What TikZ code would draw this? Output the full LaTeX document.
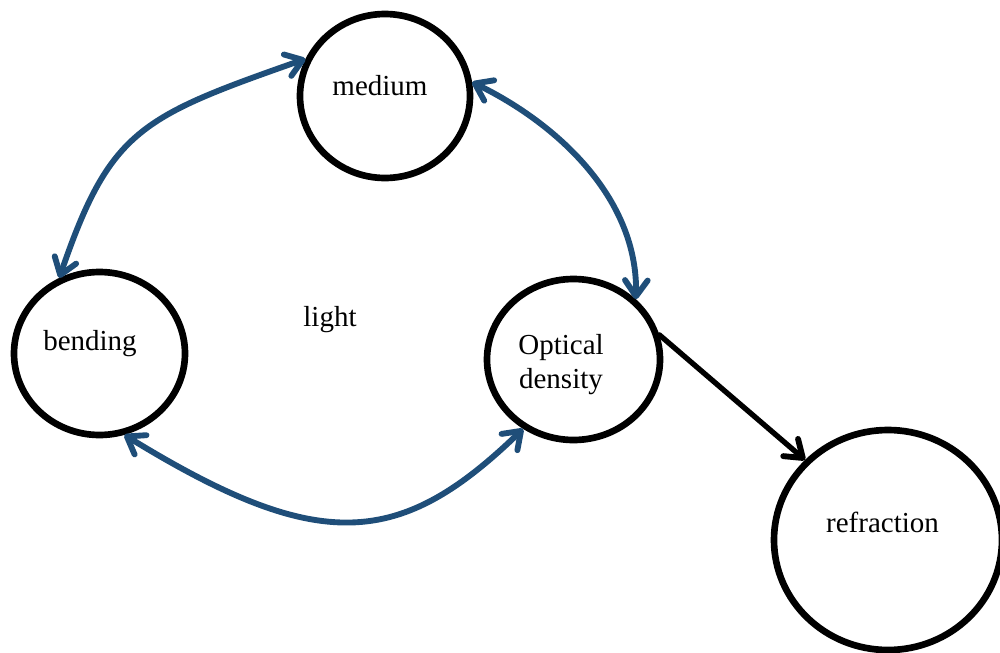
\documentclass[tikz,border=0pt]{standalone}
\usepackage{fontspec}
\setmainfont{Liberation Serif}
\usetikzlibrary{shapes.geometric,arrows.meta}
\definecolor{linkblue}{RGB}{31,78,121}
\begin{document}
\begin{tikzpicture}[x=0.75pt,y=-0.75pt,
  concept/.style={ellipse,draw=black,line width=5pt,inner sep=0pt},
  lbl/.style={font=\fontsize{21.75}{25.5}\selectfont,anchor=base,inner sep=0pt},
  barb/.tip={Straight Barb[length=12pt,width=17pt,line width=4.4pt,round]},
  link/.style={draw=linkblue,line width=4.4pt,line cap=round,barb-barb},
  flow/.style={draw=black,line width=4pt,line cap=round,-barb}]
\useasboundingbox (0,0) rectangle (1000,653);
\clip (0,0) rectangle (1000,653);

% concept circles
\node[concept,minimum width=127.5pt,minimum height=123pt] (medium) at (385,96) {};
\node[concept,minimum width=128.25pt,minimum height=122.25pt] (bending) at (99.5,353.5) {};
\node[concept,minimum width=129.75pt,minimum height=120.75pt] (optical) at (573.5,359.5) {};
\node[concept,minimum width=171pt,minimum height=165pt] (refraction) at (888,540) {};

% labels
\node[lbl] (medium-text) at (380,95.5) {medium};
\node[lbl] (bending-text) at (90,350) {bending};
\node[lbl,align=center] (optical-text) at (561,388) {Optical\\density};
\node[lbl] (refraction-text) at (882.5,532) {refraction};
\node[lbl] (light-text) at (330,326) {light};

% two-way links
\draw[link] (medium.155) .. controls (140,117) and (110,130) .. (bending.118);
\draw[link] (medium.9) .. controls (560,125) and (638,200) .. (optical.44);
\draw[link] (bending.-73) .. controls (320,555) and (400,548) .. (optical.-126);

% one-way link
\draw[flow] (optical.16) -- (refraction.136);
\end{tikzpicture}
\end{document}
